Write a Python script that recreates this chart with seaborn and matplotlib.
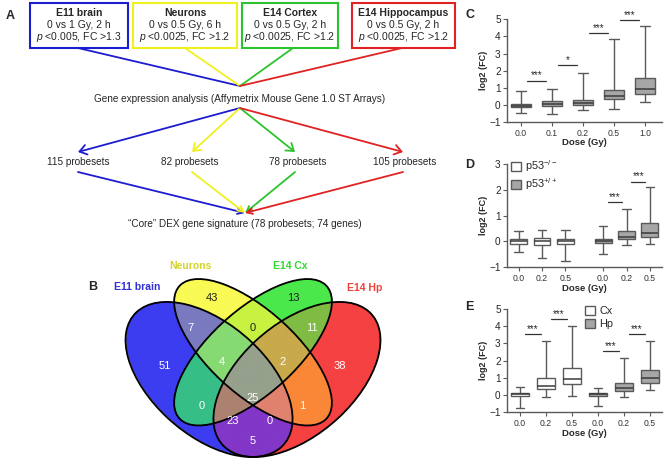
import numpy as np
import pandas as pd
import seaborn as sns
import matplotlib.pyplot as plt
from matplotlib.patches import Ellipse, Rectangle, Patch

# ---- panel A: flow chart ----
set_titles = ["E11 brain", "Neurons", "E14 Cortex", "E14 Hippocampus"]
set_doses = ["0 vs 1 Gy, 2 h", "0 vs 0.5 Gy, 6 h", "0 vs 0.5 Gy, 2 h", "0 vs 0.5 Gy, 2 h"]
set_cutoffs = ["<0.005, FC >1.3", "<0.0025, FC >1.2", "<0.0025, FC >1.2", "<0.0025, FC >1.2"]
probesets = [115, 82, 78, 105]
set_colors = ["#1c1cd0", "#f0f020", "#2cc42c", "#e02222"]

# ---- panel B: venn (A=E11 brain, B=Neurons, C=E14 Cx, D=E14 Hp) ----
venn_names = ["E11 brain", "Neurons", "E14 Cx", "E14 Hp"]
venn_name_colors = ["#3030d8", "#d4d428", "#30d830", "#f04038"]
venn_regions = ["A", "B", "C", "D", "AB", "BC", "CD", "ABC", "BCD", "AC", "ABCD", "BD", "ACD", "ABD", "AD"]
venn_counts = [51, 43, 13, 38, 7, 0, 11, 4, 2, 0, 25, 1, 23, 0, 5]

# ---- panel C: all doses (five-number summaries) ----
c_doses = ["0.0", "0.1", "0.2", "0.5", "1.0"]
c_min = [-0.47, -0.53, -0.29, -0.25, 0.14]
c_q1 = [-0.14, -0.06, 0.0, 0.33, 0.64]
c_med = [-0.04, 0.08, 0.12, 0.51, 0.91]
c_q3 = [0.06, 0.25, 0.29, 0.88, 1.56]
c_max = [0.82, 0.9, 1.87, 3.83, 4.63]
c_sig = [(0, 1, 1.4, "***"), (1, 2, 2.33, "*"), (2, 3, 4.18, "***"), (3, 4, 4.96, "***")]

# ---- panel D: p53 ----
d_genotype = ["-/-", "-/-", "-/-", "+/+", "+/+", "+/+"]
d_dose = ["0.0", "0.2", "0.5", "0.0", "0.2", "0.5"]
d_min = [-0.4, -0.65, -0.74, -0.49, -0.14, -0.09]
d_q1 = [-0.08, -0.12, -0.1, -0.04, 0.08, 0.18]
d_med = [0.01, 0.03, 0.03, 0.03, 0.18, 0.34]
d_q3 = [0.09, 0.13, 0.09, 0.09, 0.4, 0.7]
d_max = [0.4, 0.44, 0.45, 0.6, 1.27, 2.12]
d_sig = [(3, 4, 1.52, "***"), (4, 5, 2.31, "***")]

# ---- panel E: cortex / hippocampus ----
e_tissue = ["Cx", "Cx", "Cx", "Hp", "Hp", "Hp"]
e_dose = ["0.0", "0.2", "0.5", "0.0", "0.2", "0.5"]
e_min = [-0.77, -0.14, -0.06, -0.64, -0.1, 0.29]
e_q1 = [-0.04, 0.35, 0.64, -0.04, 0.25, 0.68]
e_med = [0.04, 0.54, 0.93, 0.04, 0.44, 0.99]
e_q3 = [0.1, 0.99, 1.55, 0.1, 0.73, 1.43]
e_max = [0.48, 3.13, 4.02, 0.39, 2.13, 3.15]
e_sig = [(0, 1, 3.52, "***"), (1, 2, 4.41, "***"), (3, 4, 2.55, "***"), (4, 5, 3.52, "***")]

sns.set_style("ticks")
plt.rcParams["font.family"] = ["Liberation Sans", "DejaVu Sans"]
plt.rcParams["mathtext.fontset"] = "custom"
plt.rcParams["mathtext.rm"] = "Liberation Sans"
plt.rcParams["mathtext.it"] = "Liberation Sans:italic"

W, H = 664, 462
fig = plt.figure(figsize=(W / 100, H / 100), dpi=100)


def px_rect(left, top, right, bottom):
    return [left / W, 1 - bottom / H, (right - left) / W, (bottom - top) / H]


# venn axes first so the text layer sits above it
axv = fig.add_axes(px_rect(106.5, 235.3, 399.5, 507.3))
ellipses = [(0.35, 0.47, 0.35, 0.20, 135), (0.50, 0.57, 0.35, 0.15, 135),
            (0.50, 0.57, 0.35, 0.15, 45), (0.65, 0.47, 0.35, 0.20, 45)]
region_rgb = {
    "A": (60, 60, 240), "B": (250, 250, 85), "C": (75, 232, 75), "D": (245, 65, 65),
    "AB": (122, 122, 192), "BC": (200, 242, 65), "CD": (128, 188, 68), "ABC": (135, 218, 115),
    "BCD": (200, 170, 75), "AC": (55, 190, 135), "ABCD": (150, 160, 140), "BD": (250, 135, 55),
    "ACD": (172, 130, 112), "ABD": (224, 130, 110), "AD": (130, 55, 200),
}
gx, gy = np.meshgrid(np.linspace(0, 1, 1000), np.linspace(0, 1, 1000))
code = np.zeros(gx.shape, dtype=int)
for bit, (x, y, a, b, ang) in enumerate(ellipses):
    t = np.deg2rad(ang)
    u = (gx - x) * np.cos(t) + (gy - y) * np.sin(t)
    v = -(gx - x) * np.sin(t) + (gy - y) * np.cos(t)
    code |= (((u / a) ** 2 + (v / b) ** 2) <= 1).astype(int) << bit
lut = np.zeros((16, 4))
for name, rgb in region_rgb.items():
    idx = sum(1 << "ABCD".index(ch) for ch in name)
    lut[idx] = [c / 255 for c in rgb] + [1]
axv.imshow(lut[code], extent=(0, 1, 0, 1), origin="lower", aspect="auto", interpolation="antialiased")
for x, y, a, b, ang in ellipses:
    axv.add_patch(Ellipse((x, y), 2 * a, 2 * b, angle=ang, facecolor="none",
                          edgecolor="black", lw=1.3, clip_on=False))
axv.set_xlim(0, 1)
axv.set_ylim(0, 1)
axv.axis("off")

ax0 = fig.add_axes([0, 0, 460 / W, 1])
ax0.set_xlim(0, 460)
ax0.set_ylim(H, 0)
ax0.axis("off")

box_x = [(30, 128), (133, 237), (242, 338), (352, 455)]
line_top = [78, 185, 293, 402]
arrow_x = [78, 192, 295, 403]
label_x = [78, 190, 298, 405]
for i in range(4):
    l, r = box_x[i]
    ax0.add_patch(Rectangle((l, 3), r - l, 45, fill=False, edgecolor=set_colors[i], lw=1.5))
    cx = (l + r) / 2
    ax0.text(cx, 13, set_titles[i], ha="center", va="center", fontsize=7.5, fontweight="bold")
    ax0.text(cx, 25, set_doses[i], ha="center", va="center", fontsize=7.5)
    ax0.text(cx, 36.5, "$p$ " + set_cutoffs[i], ha="center", va="center", fontsize=7.5)
    ax0.plot([line_top[i], 240], [48, 86], color=set_colors[i], lw=1.3)
    ax0.annotate("", xy=(arrow_x[i], 152), xytext=(240, 108),
                 arrowprops=dict(arrowstyle="->,head_length=0.5,head_width=0.35",
                                 color=set_colors[i], lw=1.3, shrinkA=0, shrinkB=0))
    ax0.text(label_x[i], 162, f"{probesets[i]} probesets", ha="center", va="center", fontsize=7.2)
    ax0.annotate("", xy=(245, 213), xytext=(arrow_x[i], 172),
                 arrowprops=dict(arrowstyle="->,head_length=0.4,head_width=0.2",
                                 color=set_colors[i], lw=1.3, shrinkA=0, shrinkB=0))

ax0.text(240, 99, "Gene expression analysis (Affymetrix Mouse Gene 1.0 ST Arrays)",
         ha="center", va="center", fontsize=7.2)
ax0.text(245, 224, "\u201cCore\u201d DEX gene signature (78 probesets; 74 genes)",
         ha="center", va="center", fontsize=7.2)
ax0.text(6, 16, "A", fontsize=9, fontweight="bold", va="center")
ax0.text(88, 287, "B", fontsize=9, fontweight="bold", va="center")

name_pos = [(137, 287), (190, 266), (290, 266), (365, 288)]
for (x, y), name, col in zip(name_pos, venn_names, venn_name_colors):
    ax0.text(x, y, name, color=col, ha="center", va="center", fontsize=7.5, fontweight="bold")

count_pos = {"A": (165, 366), "B": (212, 298), "C": (293, 298), "D": (340, 366),
             "AB": (190, 328), "BC": (253, 328), "CD": (312, 328), "ABC": (222, 362),
             "BCD": (283, 362), "AC": (202, 406), "ABCD": (253, 398), "BD": (302, 406),
             "ACD": (233, 421), "ABD": (270, 421), "AD": (253, 441)}
dark_labels = {"B", "C", "BC"}
for reg, n in zip(venn_regions, venn_counts):
    x, y = count_pos[reg]
    ax0.text(x, y, str(n), ha="center", va="center", fontsize=8,
             color="#202020" if reg in dark_labels else "white")

# ---- box plot panels ----
gray = "#a6a6a6"
edge = "#5a5a5a"
box_kw = dict(whis=(0, 100), saturation=1, fliersize=0, linecolor=edge, linewidth=1,
              medianprops=dict(color="#3a3a3a", lw=1.1))


def summary_frame(**cols):
    stats = cols.pop("stats")
    vals = np.column_stack(stats).ravel()
    frame = {k: np.repeat(v, 5) for k, v in cols.items()}
    frame["fc"] = vals
    return pd.DataFrame(frame)


def style_axis(ax, ylim):
    sns.despine(ax=ax)
    for s in ["left", "bottom"]:
        ax.spines[s].set_color(edge)
        ax.spines[s].set_linewidth(1)
    ax.set_ylim(*ylim)
    ax.set_yticks(range(ylim[0], ylim[1] + 1))
    ax.tick_params(axis="y", labelsize=7.2, length=3, color=edge, pad=1.5)
    ax.tick_params(axis="x", labelsize=6.2, length=3, color=edge, labelcolor="#333333", pad=2)
    ax.set_ylabel("log2 (FC)", fontsize=6.5, fontweight="bold")
    ax.yaxis.set_label_coords(-0.125, 0.5)
    ax.set_xlabel("Dose (Gy)", fontsize=6.8, fontweight="bold")
    ax.xaxis.set_label_coords(0.5, -0.16)


def add_sig(ax, centers, sigs):
    for i0, i1, y, txt in sigs:
        x0, x1 = centers[i0], centers[i1]
        d = x1 - x0
        ax.plot([x0 + 0.2 * d, x1 - 0.2 * d], [y, y], color="#333333", lw=0.9)
        ax.text((x0 + x1) / 2, y + 0.02, txt, ha="center", va="bottom", fontsize=7)


# C
axC = fig.add_axes(px_rect(507, 19.3, 662, 122))
c_df = summary_frame(dose=c_doses, stats=[c_min, c_q1, c_med, c_q3, c_max])
sns.boxplot(data=c_df, x="dose", y="fc", order=c_doses, color=gray, width=0.65, ax=axC, **box_kw)
style_axis(axC, (-1, 5))
axC.set_xlim(-0.45, 4.55)
add_sig(axC, list(range(5)), c_sig)

# D
axD = fig.add_axes(px_rect(507, 164, 662, 267.3))
d_df = summary_frame(genotype=d_genotype, dose=d_dose, stats=[d_min, d_q1, d_med, d_q3, d_max])
sns.boxplot(data=d_df, x="genotype", y="fc", hue="dose", order=["-/-", "+/+"],
            hue_order=["0.0", "0.2", "0.5"], palette=["white"] * 3, dodge=True,
            width=0.83, gap=0.28, legend=False, ax=axD, **box_kw)
d_centers = []
for p in axD.patches:
    xs = p.get_path().vertices[:, 0]
    cx = (xs.min() + xs.max()) / 2
    d_centers.append(cx)
    if cx > 0.5:
        p.set_facecolor(gray)
d_centers = sorted(d_centers)
style_axis(axD, (-1, 3))
axD.set_xticks(d_centers)
axD.set_xticklabels(d_dose)
axD.set_xlim(-0.415, 1.42)
add_sig(axD, d_centers, d_sig)
axD.legend(handles=[Patch(facecolor="white", edgecolor=edge, label="p53$^{-/-}$"),
                    Patch(facecolor=gray, edgecolor=edge, label="p53$^{+/+}$")],
           loc="upper left", bbox_to_anchor=(511 / W, 1 - 158 / H), bbox_transform=fig.transFigure,
           frameon=False, fontsize=7.8, handlelength=0.9, handleheight=0.9,
           handletextpad=0.4, labelspacing=0.25, borderaxespad=0, borderpad=0)

# E
axE = fig.add_axes(px_rect(507, 309, 662, 412.3))
e_key = [t + " " + d for t, d in zip(e_tissue, e_dose)]
e_df = summary_frame(key=e_key, tissue=e_tissue, stats=[e_min, e_q1, e_med, e_q3, e_max])
sns.boxplot(data=e_df, x="key", y="fc", hue="tissue", order=e_key,
            palette={"Cx": "white", "Hp": gray}, width=0.68, legend=False, ax=axE, **box_kw)
style_axis(axE, (-1, 5))
axE.set_xticks(range(6))
axE.set_xticklabels(e_dose)
axE.set_xlim(-0.5, 5.46)
add_sig(axE, list(range(6)), e_sig)
axE.legend(handles=[Patch(facecolor="white", edgecolor=edge, label="Cx"),
                    Patch(facecolor=gray, edgecolor=edge, label="Hp")],
           loc="upper left", bbox_to_anchor=(585 / W, 1 - 306 / H), bbox_transform=fig.transFigure,
           frameon=False, fontsize=7.8, handlelength=0.9, handleheight=0.9,
           handletextpad=0.4, labelspacing=0.25, borderaxespad=0, borderpad=0)

for lab, y in [("C", 15), ("D", 165), ("E", 307)]:
    fig.text(465 / W, 1 - y / H, lab, fontsize=9, fontweight="bold", va="center")

fig.savefig("out.png", dpi=100)
